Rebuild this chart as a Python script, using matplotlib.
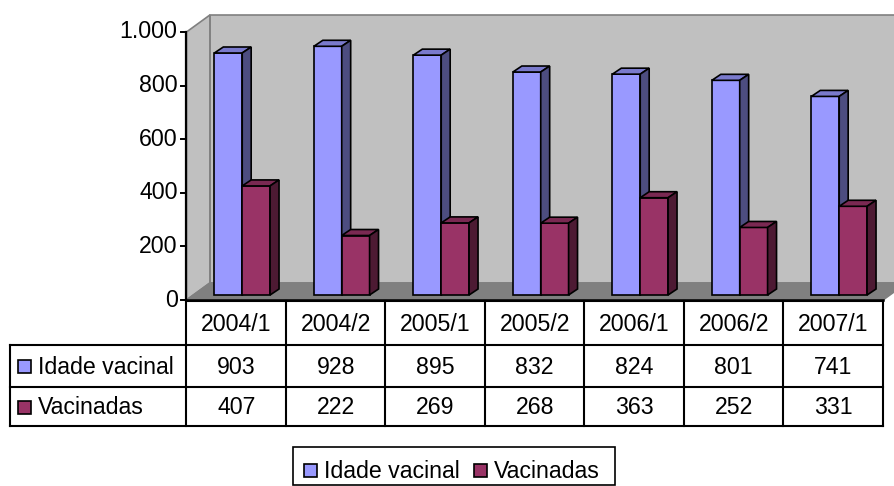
import matplotlib.pyplot as plt
from matplotlib.patches import Polygon, Rectangle

plt.rcParams['font.family'] = ['Liberation Sans', 'DejaVu Sans']

categories = ['2004/1', '2004/2', '2005/1', '2005/2', '2006/1', '2006/2', '2007/1']
idade_vacinal = [903, 928, 895, 832, 824, 801, 741]
vacinadas = [407, 222, 269, 268, 363, 252, 331]
series_names = ['Idade vacinal', 'Vacinadas']
y_ticks = [0, 200, 400, 600, 800, 1000]

# colours: front, top, side
blue = ('#9999ff', '#7a7acc', '#4d4d80')
wine = ('#993366', '#7a2952', '#4d1a33')

W, H = 895, 486
FS = 16.7

# pixel layout of the front plane
X_PX0 = 186.5      # left edge of first category
UNIT = 99.5        # px per category
Y0_PX = 300.0      # value 0
PX_PER_VAL = 0.268

fig = plt.figure(figsize=(W / 100, H / 100), dpi=100)
ax = fig.add_axes([0, 0, 1, 1])
ax.set_xlim(-0.5 - X_PX0 / UNIT, -0.5 + (W - X_PX0) / UNIT)
ax.set_ylim(-(H - Y0_PX) / PX_PER_VAL, Y0_PX / PX_PER_VAL)
ax.axis('off')

n = len(categories)
ymax = y_ticks[-1]
DX, DY = 0.235, 17 / PX_PER_VAL   # wall depth

# walls and floor
back = [(-0.5 + DX, DY), (n - 0.5 + DX, DY), (n - 0.5 + DX, ymax + DY), (-0.5 + DX, ymax + DY)]
left = [(-0.5, 0), (-0.5 + DX, DY), (-0.5 + DX, ymax + DY), (-0.5, ymax)]
floor = [(-0.5, 0), (n - 0.5, 0), (n - 0.5 + DX, DY), (-0.5 + DX, DY)]
ax.add_patch(Polygon(back, closed=True, fc='#c0c0c0', ec='#808080', lw=1.2, zorder=1))
ax.add_patch(Polygon(left, closed=True, fc='#c0c0c0', ec='#808080', lw=1.2, zorder=1))
ax.add_patch(Polygon(floor, closed=True, fc='#808080', ec='#808080', lw=1.2, zorder=1))

# axes lines and ticks
ax.plot([-0.5, -0.5], [0, ymax], color='black', lw=1.6, zorder=5)
ax.plot([-0.5, n - 0.5], [0, 0], color='black', lw=1.8, zorder=5)
for t in y_ticks:
    ax.plot([-0.56, -0.5], [t, t], color='black', lw=1.4, zorder=5)
    ax.text(-0.59, t, f'{t:,}'.replace(',', '.'), ha='right', va='center', fontsize=FS)

# bars
bw = 0.28
off_x, off_y = 0.06, 5 / PX_PER_VAL
bdx, bdy = 0.09, 6 / PX_PER_VAL


def bar3d(x, v, cols):
    b = off_y
    top = b + v
    front = [(x, b), (x + bw, b), (x + bw, top), (x, top)]
    topf = [(x, top), (x + bw, top), (x + bw + bdx, top + bdy), (x + bdx, top + bdy)]
    side = [(x + bw, b), (x + bw + bdx, b + bdy), (x + bw + bdx, top + bdy), (x + bw, top)]
    for poly, c in zip((front, topf, side), cols):
        ax.add_patch(Polygon(poly, closed=True, fc=c, ec='black', lw=1.2, zorder=3))


for i in range(n):
    bar3d(i - bw + off_x, idade_vacinal[i], blue)
    bar3d(i + off_x, vacinadas[i], wine)

# data table and legend in pixel coordinates
lay = fig.add_axes([0, 0, 1, 1])
lay.set_xlim(0, W)
lay.set_ylim(H, 0)
lay.axis('off')
lay.patch.set_alpha(0)

x_right = X_PX0 + n * UNIT
rows_y = [301, 345, 387, 426]
lk = dict(color='black', lw=1.5)
lay.plot([X_PX0, x_right], [rows_y[0], rows_y[0]], **lk)
for y in rows_y[1:]:
    lay.plot([10, x_right], [y, y], **lk)
for k in range(n + 1):
    xk = X_PX0 + k * UNIT
    lay.plot([xk, xk], [rows_y[0], rows_y[3]], **lk)
lay.plot([10, 10], [rows_y[1], rows_y[3]], **lk)

for i, c in enumerate(categories):
    xc = X_PX0 + (i + 0.5) * UNIT
    lay.text(xc, (rows_y[0] + rows_y[1]) / 2 + 1, c, ha='center', va='center', fontsize=FS)
    lay.text(xc, (rows_y[1] + rows_y[2]) / 2 + 1, str(idade_vacinal[i]), ha='center', va='center', fontsize=FS)
    lay.text(xc, (rows_y[2] + rows_y[3]) / 2 + 1, str(vacinadas[i]), ha='center', va='center', fontsize=FS)

for r, (name, cols) in enumerate(zip(series_names, (blue, wine))):
    yc = (rows_y[r + 1] + rows_y[r + 2]) / 2 + 1
    lay.add_patch(Rectangle((18, yc - 7), 13, 13, fc=cols[0], ec='black', lw=1.2))
    lay.text(38, yc, name, ha='left', va='center', fontsize=FS)

# legend
lay.add_patch(Rectangle((293, 447), 322, 38, fc='white', ec='black', lw=1.2))
leg_y = 471
for (name, cols), xs in zip(zip(series_names, (blue, wine)), (304, 474)):
    lay.add_patch(Rectangle((xs, leg_y - 7), 13, 13, fc=cols[0], ec='black', lw=1.2))
    lay.text(xs + 20, leg_y, name, ha='left', va='center', fontsize=FS)

fig.savefig('out.png', dpi=100)
